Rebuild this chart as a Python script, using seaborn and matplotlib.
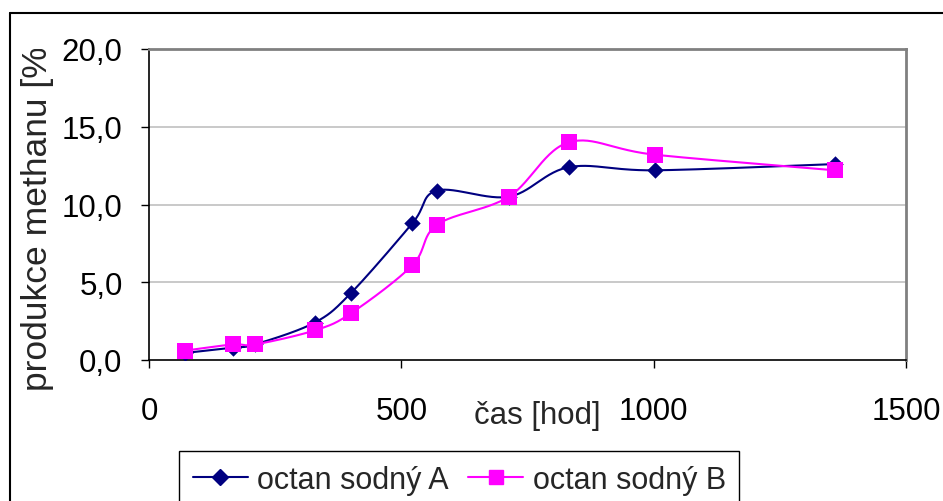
import numpy as np
import pandas as pd
import matplotlib
matplotlib.use("Agg")
import matplotlib.pyplot as plt
import seaborn as sns
from matplotlib.lines import Line2D
from matplotlib.ticker import FuncFormatter
from matplotlib.patches import Rectangle

# measured data: time [h] vs methane production [%]
cas_hod = [71, 166, 210, 328, 400, 522, 571, 713, 832, 1003, 1359]
octan_a = [0.45, 0.8, 1.0, 2.4, 4.3, 8.8, 10.9, 10.5, 12.4, 12.2, 12.6]
octan_b = [0.6, 1.0, 1.0, 1.9, 3.0, 6.1, 8.7, 10.5, 14.0, 13.2, 12.2]
series_names = ["octan sodný A", "octan sodný B"]
x_ticks = [0, 500, 1000, 1500]
y_ticks = [0, 5, 10, 15, 20]

sns.set_theme(style="white")
plt.rcParams["font.family"] = ["Liberation Sans", "DejaVu Sans"]

FS = 22.5
W, H = 943, 502
fig = plt.figure(figsize=(W / 100, H / 100), dpi=100)
ax = fig.add_axes([149 / W, 1 - 361 / H, (906 - 149) / W, (361 - 50) / H])

XMAX, YMAX = 1500.0, 20.0
# axis aspect used so the smoothing is done in screen-like proportions
sx, sy = 757.0 / XMAX, 311.0 / YMAX


def smooth(xs, ys, n=30):
    """Cardinal (Catmull-Rom) Bezier smoothing through the data points."""
    p = np.column_stack([np.asarray(xs, float) * sx, np.asarray(ys, float) * sy])
    out = []
    for i in range(len(p) - 1):
        p0 = p[i - 1] if i > 0 else p[i]
        p1, p2 = p[i], p[i + 1]
        p3 = p[i + 2] if i + 2 < len(p) else p[i + 1]
        c1 = p1 + (p2 - p0) / 6.0
        c2 = p2 - (p3 - p1) / 6.0
        t = np.linspace(0, 1, n, endpoint=(i == len(p) - 2))[:, None]
        seg = ((1 - t) ** 3) * p1 + 3 * ((1 - t) ** 2) * t * c1 + 3 * (1 - t) * t ** 2 * c2 + t ** 3 * p2
        out.append(seg)
    c = np.vstack(out)
    return c[:, 0] / sx, c[:, 1] / sy


colors = ["#000080", "#FF00FF"]
markers = ["D", "s"]
msizes = [70, 130]

for name, ys, col, mk, ms in zip(series_names, [octan_a, octan_b], colors, markers, msizes):
    cx, cy = smooth(cas_hod, ys)
    curve = pd.DataFrame({"x": cx, "y": cy})
    sns.lineplot(data=curve, x="x", y="y", sort=False, estimator=None,
                 color=col, linewidth=1.5, ax=ax, legend=False)
    pts = pd.DataFrame({"x": cas_hod, "y": ys})
    sns.scatterplot(data=pts, x="x", y="y", marker=mk, s=ms, color=col,
                    edgecolor=col, linewidth=0, ax=ax, legend=False, zorder=5)

ax.set_xlim(0, XMAX)
ax.set_ylim(0, YMAX)
ax.set_xticks(x_ticks)
ax.set_yticks(y_ticks)
ax.yaxis.set_major_formatter(FuncFormatter(lambda v, _: f"{v:.1f}".replace(".", ",")))
ax.set_xlabel("")
ax.set_ylabel("")
ax.tick_params(axis="both", direction="out", length=6, width=1, color="black",
               labelsize=FS, labelcolor="black", left=True, bottom=True)
ax.tick_params(axis="y", pad=13)
ax.tick_params(axis="x", pad=20)

# horizontal grid
for v in [5, 10, 15]:
    ax.axhline(v, color="#C0C0C0", linewidth=1.2, zorder=0)

for side in ["top", "right"]:
    ax.spines[side].set_color("#808080")
    ax.spines[side].set_linewidth(2)
for side in ["left", "bottom"]:
    ax.spines[side].set_color("black")
    ax.spines[side].set_linewidth(1.2)

# axis titles
fig.text(537 / W, 1 - 416 / H, "čas [hod]", fontsize=FS, ha="center", va="center")
ylab = fig.text(37 / W, 1 - 391 / H, "produkce methanu [%]", fontsize=25.5,
                rotation=90, ha="left", va="center", rotation_mode="anchor")
clip = Rectangle((0, 0), 1, 1 - 50 / H, transform=fig.transFigure, visible=False)
fig.add_artist(clip)
ylab.set_clip_path(clip)
ylab.set_clip_on(True)

# outer chart frame
fig.add_artist(Line2D([10 / W, 1.0], [1 - 14 / H] * 2, transform=fig.transFigure,
                      color="black", linewidth=1.5))
fig.add_artist(Line2D([10 / W] * 2, [0, 1 - 14 / H], transform=fig.transFigure,
                      color="black", linewidth=1.5))

# legend
handles = [
    Line2D([], [], color=colors[0], marker="D", markersize=8, linewidth=1.5),
    Line2D([], [], color=colors[1], marker="s", markersize=10, linewidth=1.5),
]
leg = fig.legend(handles, series_names, loc="upper left",
                 bbox_to_anchor=(179 / W, 1 - 452 / H), ncol=2, fontsize=22,
                 frameon=True, fancybox=False, edgecolor="black", framealpha=1,
                 borderpad=0.45, handlelength=1.8, handletextpad=0.3,
                 columnspacing=0.65, borderaxespad=0)
leg.get_frame().set_linewidth(1)

fig.savefig("out.png", dpi=100)
